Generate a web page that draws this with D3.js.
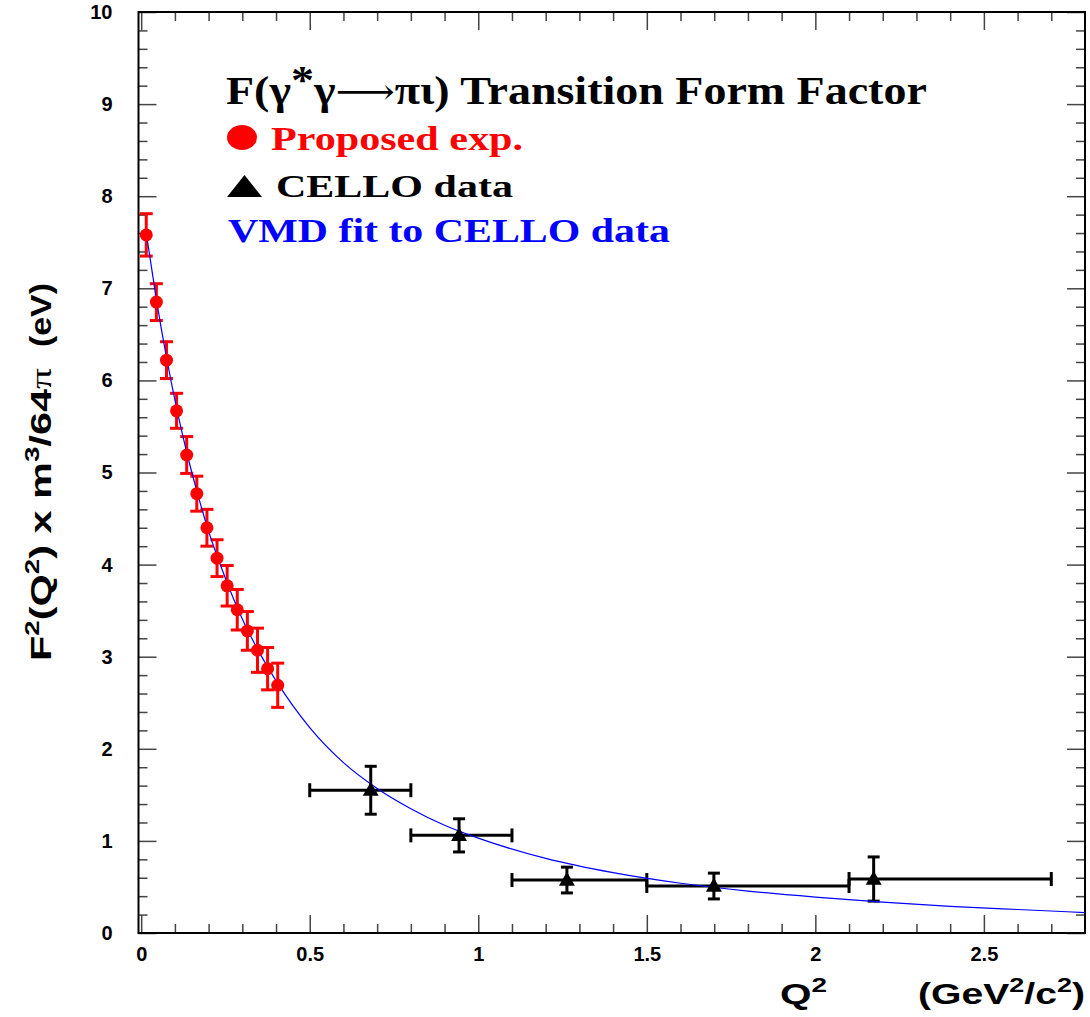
<!DOCTYPE html>
<html>
<head>
<meta charset="utf-8">
<script src="https://cdn.jsdelivr.net/npm/d3@7"></script>
<style>
  html, body { margin: 0; padding: 0; background: #fff; }
  svg { display: block; }
</style>
</head>
<body>
<svg id="chart" width="1090" height="1017"></svg>
<script>
// ---------------- data ----------------
// Proposed experiment (red circles)
const propQ2   = [0.015, 0.045, 0.075, 0.105, 0.135, 0.165, 0.195, 0.225, 0.255, 0.285, 0.315, 0.345, 0.375, 0.405];
const propF2   = [7.58, 6.85, 6.22, 5.67, 5.19, 4.77, 4.40, 4.07, 3.77, 3.51, 3.28, 3.07, 2.87, 2.69];
const propErr  = [0.23, 0.20, 0.20, 0.19, 0.20, 0.19, 0.20, 0.20, 0.22, 0.22, 0.21, 0.24, 0.23, 0.24];

// CELLO data (black triangles)
const celloQ2   = [0.681, 0.943, 1.263, 1.699, 2.173];
const celloQ2lo = [0.50, 0.80, 1.10, 1.50, 2.10];
const celloQ2hi = [0.80, 1.10, 1.50, 2.10, 2.70];
const celloF2   = [1.55, 1.06, 0.575, 0.51, 0.586];
const celloErr  = [0.26, 0.18, 0.14, 0.14, 0.24];

// VMD fit curve (blue)
const fitQ2 = [0.015, 0.045, 0.075, 0.105, 0.135, 0.165, 0.20, 0.25, 0.30, 0.35, 0.40, 0.50, 0.60, 0.70, 0.80, 0.90, 1.00, 1.20, 1.40, 1.60, 1.80, 2.00, 2.20, 2.40, 2.60, 2.80];
const fitF2 = [7.60, 6.88, 6.25, 5.70, 5.22, 4.80, 4.36, 3.85, 3.41, 3.05, 2.74, 2.23, 1.85, 1.57, 1.35, 1.17, 1.03, 0.81, 0.655, 0.54, 0.455, 0.39, 0.335, 0.29, 0.255, 0.222];

// axis ticks
const xMajorTicks = [0, 0.5, 1, 1.5, 2, 2.5];
const xTickLabels = ["0", "0.5", "1", "1.5", "2", "2.5"];
const yMajorTicks = [0, 1, 2, 3, 4, 5, 6, 7, 8, 9, 10];
const yTickLabels = ["0", "1", "2", "3", "4", "5", "6", "7", "8", "9", "10"];
const xMinorTicks = d3.range(0, 28).map(i => i / 10).filter(v => Math.abs(v * 2 - Math.round(v * 2)) > 1e-6);
const yMinorTicks = d3.range(0, 51).map(i => i / 5).filter(v => Math.abs(v - Math.round(v)) > 1e-6);

// ---------------- layout ----------------
const frame = { left: 138.5, right: 1085, top: 12, bottom: 933 };
const svg = d3.select("#chart");

const x = d3.scaleLinear().domain([-0.008, 2.8]).range([frame.left, frame.right]);
const y = d3.scaleLinear().domain([0, 10]).range([frame.bottom, frame.top]);

const SANS = "'Liberation Sans', Arial, Helvetica, sans-serif";
const SERIF = "'Liberation Serif', 'Times New Roman', Times, serif";
const tickColor = "#444";

function styleAxis(g, withText) {
  g.select(".domain").remove();
  g.selectAll(".tick line").attr("stroke", tickColor).attr("stroke-width", 1.5);
  g.attr("font-family", SANS).attr("font-size", 20).attr("font-weight", "bold");
  g.selectAll(".tick text").attr("fill", "#000");
  if (!withText) g.selectAll(".tick text").remove();
}

// bottom axis
svg.append("g").attr("transform", `translate(0,${frame.bottom})`)
  .call(d3.axisBottom(x).tickValues(xMinorTicks).tickSize(-9).tickFormat(""))
  .call(g => styleAxis(g, false));
svg.append("g").attr("transform", `translate(0,${frame.bottom})`)
  .call(d3.axisBottom(x).tickValues(xMajorTicks).tickSize(-18).tickPadding(14)
        .tickFormat((d, i) => xTickLabels[i]))
  .call(g => styleAxis(g, true));
// top axis
svg.append("g").attr("transform", `translate(0,${frame.top})`)
  .call(d3.axisTop(x).tickValues(xMinorTicks).tickSize(-9).tickFormat(""))
  .call(g => styleAxis(g, false));
svg.append("g").attr("transform", `translate(0,${frame.top})`)
  .call(d3.axisTop(x).tickValues(xMajorTicks).tickSize(-18).tickFormat(""))
  .call(g => styleAxis(g, false));
// left axis
svg.append("g").attr("transform", `translate(${frame.left},0)`)
  .call(d3.axisLeft(y).tickValues(yMinorTicks).tickSize(-9).tickFormat(""))
  .call(g => styleAxis(g, false));
svg.append("g").attr("transform", `translate(${frame.left},0)`)
  .call(d3.axisLeft(y).tickValues(yMajorTicks).tickSize(-18).tickPadding(26)
        .tickFormat((d, i) => yTickLabels[i]))
  .call(g => styleAxis(g, true));
// right axis
svg.append("g").attr("transform", `translate(${frame.right},0)`)
  .call(d3.axisRight(y).tickValues(yMinorTicks).tickSize(-9).tickFormat(""))
  .call(g => styleAxis(g, false));
svg.append("g").attr("transform", `translate(${frame.right},0)`)
  .call(d3.axisRight(y).tickValues(yMajorTicks).tickSize(-18).tickFormat(""))
  .call(g => styleAxis(g, false));

// frame
svg.append("rect")
  .attr("x", frame.left).attr("y", frame.top)
  .attr("width", frame.right - frame.left).attr("height", frame.bottom - frame.top)
  .attr("fill", "none").attr("stroke", "#000").attr("stroke-width", 2);

// ---------------- data marks ----------------
const prop = propQ2.map((q, i) => ({ q, f: propF2[i], e: propErr[i] }));
const cello = celloQ2.map((q, i) => ({ q, lo: celloQ2lo[i], hi: celloQ2hi[i], f: celloF2[i], e: celloErr[i] }));
const fit = fitQ2.map((q, i) => ({ q, f: fitF2[i] }));

// red error bars
const redBars = svg.append("g").attr("stroke", "#ff0000").attr("stroke-width", 3).attr("fill", "none");
prop.forEach(d => {
  const cx = x(d.q), y1 = y(d.f + d.e), y2 = y(d.f - d.e);
  redBars.append("line").attr("x1", cx).attr("x2", cx).attr("y1", y1).attr("y2", y2);
  redBars.append("line").attr("x1", cx - 6.5).attr("x2", cx + 6.5).attr("y1", y1).attr("y2", y1);
  redBars.append("line").attr("x1", cx - 6.5).attr("x2", cx + 6.5).attr("y1", y2).attr("y2", y2);
});

// black error bars
const blkBars = svg.append("g").attr("stroke", "#000").attr("stroke-width", 3).attr("fill", "none");
cello.forEach(d => {
  const cx = x(d.q), cy = y(d.f), y1 = y(d.f + d.e), y2 = y(d.f - d.e);
  blkBars.append("line").attr("x1", cx).attr("x2", cx).attr("y1", y1).attr("y2", y2);
  blkBars.append("line").attr("x1", cx - 6).attr("x2", cx + 6).attr("y1", y1).attr("y2", y1);
  blkBars.append("line").attr("x1", cx - 6).attr("x2", cx + 6).attr("y1", y2).attr("y2", y2);
  blkBars.append("line").attr("x1", x(d.lo)).attr("x2", x(d.hi)).attr("y1", cy).attr("y2", cy);
  blkBars.append("line").attr("x1", x(d.lo)).attr("x2", x(d.lo)).attr("y1", cy - 7).attr("y2", cy + 7);
  blkBars.append("line").attr("x1", x(d.hi)).attr("x2", x(d.hi)).attr("y1", cy - 7).attr("y2", cy + 7);
});

// blue fit curve
svg.append("path").datum(fit)
  .attr("fill", "none").attr("stroke", "#0000ff").attr("stroke-width", 1.2)
  .attr("d", d3.line().x(d => x(d.q)).y(d => y(d.f)).curve(d3.curveMonotoneX));

// red circles
svg.append("g").selectAll("circle").data(prop).join("circle")
  .attr("cx", d => x(d.q)).attr("cy", d => y(d.f)).attr("r", 6.5).attr("fill", "#ff0000");

// black triangles
const tri = d3.symbol().type(d3.symbolTriangle).size(110);
svg.append("g").selectAll("path").data(cello).join("path")
  .attr("transform", d => `translate(${x(d.q)},${y(d.f) + 1})`)
  .attr("d", tri).attr("fill", "#000");

// ---------------- legend / title ----------------
// text stretched horizontally to a target width (as in the original rendering)
function fitText(sel, x0, y0, targetW) {
  const w = sel.node().getComputedTextLength();
  sel.attr("transform", `translate(${x0},${y0}) scale(${targetW / w},1)`);
}

const leg = svg.append("g").attr("font-family", SERIF).attr("font-weight", "bold");

const t1 = leg.append("text").attr("font-size", 40).attr("fill", "#000");
t1.append("tspan").text("F(γ");
t1.append("tspan").attr("dy", -11).text("*");
t1.append("tspan").attr("dy", 11).text("γ");
t1.append("tspan").attr("font-family", "'DejaVu Serif', serif").attr("font-weight", "normal").attr("font-size", 36).text("⟶");
t1.append("tspan").text("πι) Transition Form Factor");
fitText(t1, 226, 104, 701);

leg.append("ellipse").attr("cx", 242).attr("cy", 137.5).attr("rx", 15).attr("ry", 12.5).attr("fill", "#ff0000");
const t2 = leg.append("text").attr("font-size", 34).attr("fill", "#ff0000").text("Proposed exp.");
fitText(t2, 271, 150, 252);

leg.append("path").attr("d", "M227,197 L262,197 L244.5,175 Z").attr("fill", "#000");
const t3 = leg.append("text").attr("font-size", 32).attr("fill", "#000").text("CELLO data");
fitText(t3, 276, 197, 237);

const t4 = leg.append("text").attr("font-size", 33).attr("fill", "#0000ff").text("VMD fit to CELLO data");
fitText(t4, 228, 242, 442);

// ---------------- axis titles ----------------
const xt = svg.append("text").attr("x", 780).attr("y", 1004).attr("font-family", SANS)
  .attr("font-weight", "bold").attr("font-size", 29).attr("fill", "#000")
  .attr("textLength", 47).attr("lengthAdjust", "spacingAndGlyphs");
xt.append("tspan").text("Q");
xt.append("tspan").attr("dy", -12).attr("font-size", 20).text("2");

const xu = svg.append("text").attr("x", 918).attr("y", 1004).attr("font-family", SANS)
  .attr("font-weight", "bold").attr("font-size", 29).attr("fill", "#000")
  .attr("textLength", 167).attr("lengthAdjust", "spacingAndGlyphs");
xu.append("tspan").text("(GeV");
xu.append("tspan").attr("dy", -12).attr("font-size", 20).text("2");
xu.append("tspan").attr("dy", 12).text("/c");
xu.append("tspan").attr("dy", -12).attr("font-size", 20).text("2");
xu.append("tspan").attr("dy", 12).text(")");

const yt = svg.append("text").attr("transform", "translate(51,661) rotate(-90)")
  .attr("font-family", SANS).attr("font-weight", "bold").attr("font-size", 30).attr("fill", "#000")
  .attr("textLength", 293).attr("lengthAdjust", "spacingAndGlyphs");
yt.append("tspan").text("F");
yt.append("tspan").attr("dy", -12).attr("font-size", 20).text("2");
yt.append("tspan").attr("dy", 12).text("(Q");
yt.append("tspan").attr("dy", -12).attr("font-size", 20).text("2");
yt.append("tspan").attr("dy", 12).text(") x m");
yt.append("tspan").attr("dy", -12).attr("font-size", 20).text("3");
yt.append("tspan").attr("dy", 12).text("/64");
yt.append("tspan").attr("font-weight", "normal").attr("font-family", SERIF).text("π");

svg.append("text").attr("transform", "translate(51,347) rotate(-90)")
  .attr("font-family", SANS).attr("font-weight", "bold").attr("font-size", 30).attr("fill", "#000")
  .attr("textLength", 64).attr("lengthAdjust", "spacingAndGlyphs").text("(eV)");
</script>
</body>
</html>
